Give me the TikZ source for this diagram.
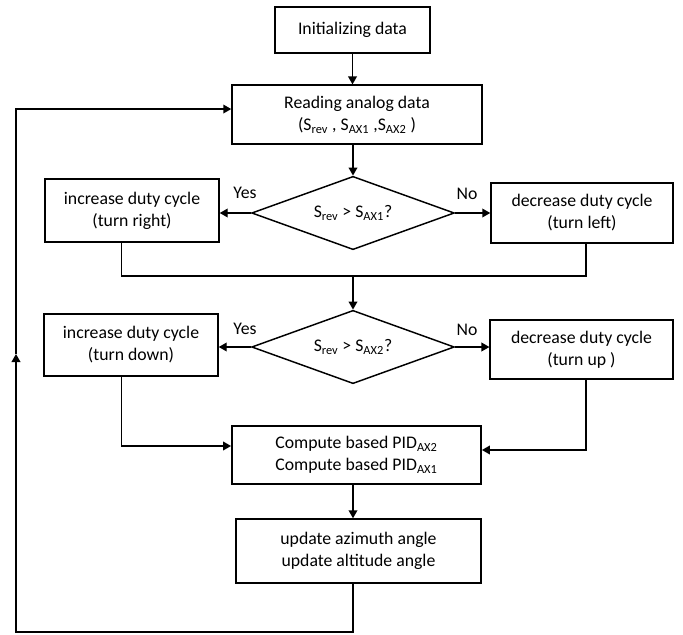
\documentclass[tikz,border=0pt]{standalone}
\usepackage{fontspec}
\setmainfont{Carlito}
\usepackage{tikz}
\usetikzlibrary{arrows.meta, shapes.geometric}
\tikzset{
  process box/.style={
    draw,
    line width=1.1pt,
    align=center,
    inner sep=0pt,
    font=\fontsize{13.3}{16.5}\selectfont
  },
  decision/.style={
    draw,
    diamond,
    line width=1.1pt,
    inner sep=0pt,
    shape aspect=2.8,
    minimum width=152pt,
    minimum height=55pt,
    font=\fontsize{13.3}{15}\selectfont
  },
  flow/.style={
    -{Triangle[length=6pt, width=6.5pt]},
    line width=1.1pt
  },
  plain line/.style={
    -,
    line width=1.1pt
  },
  branch label/.style={
    font=\fontsize{13.3}{15}\selectfont
  }
}

\begin{document}
\begin{tikzpicture}[x=0.75pt, y=-0.75pt]
    \useasboundingbox (0,0) rectangle (683,635);

    % 1. start and reading
    \node[process box, minimum width=116pt, minimum height=34.5pt] (init) at (352.5, 30) {Initializing data};
    \node[process box, minimum width=187.5pt, minimum height=44pt] (read) at (357, 114.5)
      {Reading analog data\\(S\textsubscript{rev} , S\textsubscript{AX1} ,S\textsubscript{AX2} )};
    \draw[flow] (init.south) -- (init.south |- read.north);

    % 2. first decision (AX1)
    \node[decision] (dec1) at (353, 213) {S\textsubscript{rev} > S\textsubscript{AX1}?};
    \node[process box, minimum width=130.5pt, minimum height=47pt] (incR) at (132, 210.5)
      {increase duty cycle\\(turn right)};
    \node[process box, minimum width=136.5pt, minimum height=45pt] (decL) at (582, 213)
      {decrease duty cycle\\(turn left)};
    \node[branch label] (yes1) at (245, 193) {Yes};
    \node[branch label] (no1) at (467, 194) {No};
    \draw[flow] (dec1.north |- read.south) -- (dec1.north);
    \draw[flow] (dec1.west) -- (dec1.west -| incR.east);
    \draw[flow] (dec1.east) -- (dec1.east -| decL.west);

    % merge of both branches
    \coordinate (merge1) at (353, 276);
    \draw[plain line] ([xshift=-8pt]incR.south) |- (merge1) -| ([xshift=3pt]decL.south);

    % 3. second decision (AX2)
    \node[decision] (dec2) at (353, 347) {S\textsubscript{rev} > S\textsubscript{AX2}?};
    \node[process box, minimum width=130.5pt, minimum height=46.5pt] (incD) at (131, 345)
      {increase duty cycle\\(turn down)};
    \node[process box, minimum width=137pt, minimum height=44pt] (decU) at (581.5, 349.5)
      {decrease duty cycle\\(turn up )};
    \node[branch label] (yes2) at (245, 329) {Yes};
    \node[branch label] (no2) at (467, 330) {No};
    \draw[flow] (merge1) -- (dec2.north);
    \draw[flow] (dec2.west) -- (dec2.west -| incD.east);
    \draw[flow] (dec2.east) -- (dec2.east -| decU.west);

    % 4. PID and update
    \node[process box, minimum width=187pt, minimum height=43.5pt] (comp) at (356.5, 455)
      {Compute based PID\textsubscript{AX2}\\Compute based PID\textsubscript{AX1}};
    \node[process box, minimum width=184pt, minimum height=48pt] (upd) at (358.5, 551)
      {update azimuth angle\\update altitude angle};
    \draw[flow] ([xshift=-7pt]incD.south) |- ([yshift=6.75pt]comp.west);
    \draw[flow] ([xshift=3.4pt]decU.south) |- ([yshift=3.75pt]comp.east);
    \draw[flow] (comp.south -| merge1) -- (upd.north -| merge1);

    % 5. loop back to reading
    \coordinate (loopB) at (16, 632);
    \coordinate (loopM) at (16, 354);
    \draw[flow] (upd.south -| merge1) |- (loopB) -- (loopM);
    \draw[flow] (loopM) |- ([yshift=4.1pt]read.west);

  \end{tikzpicture}
\end{document}
